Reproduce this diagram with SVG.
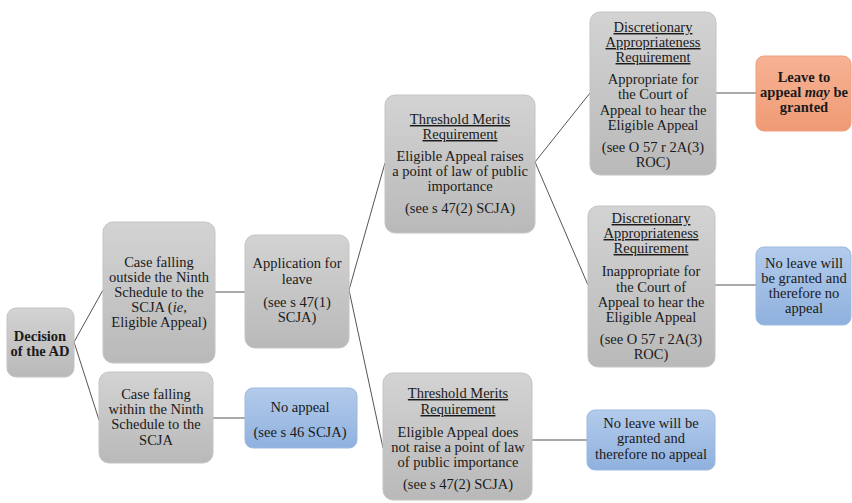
<svg xmlns="http://www.w3.org/2000/svg" width="852" height="503" viewBox="0 0 852 503">
<defs>
<linearGradient id="gGray" x1="0" y1="0" x2="0" y2="1">
<stop offset="0" stop-color="#d3d3d3"/><stop offset="1" stop-color="#b9b9b9"/>
</linearGradient>
<linearGradient id="gBlue" x1="0" y1="0" x2="0" y2="1">
<stop offset="0" stop-color="#b3cbeb"/><stop offset="1" stop-color="#8fb1de"/>
</linearGradient>
<linearGradient id="gOrange" x1="0" y1="0" x2="0" y2="1">
<stop offset="0" stop-color="#f7b394"/><stop offset="1" stop-color="#ef9a74"/>
</linearGradient>
<style>
.gray{fill:url(#gGray);stroke:#c4c4c4;stroke-width:1}
.blue{fill:url(#gBlue);stroke:#9db9df;stroke-width:1}
.orange{fill:url(#gOrange);stroke:#eea080;stroke-width:1}
text{font-family:'Liberation Serif','Times New Roman','DejaVu Serif',serif;font-size:14.5px;fill:#1a1a1a;text-anchor:middle}
.b{font-weight:bold}
.u{text-decoration:underline}
.conn line,.conn polyline{stroke:#555;stroke-width:1;fill:none}
</style>
</defs>
<rect width="852" height="503" fill="#fff"/>
<g class="conn" id="connectors">
<polyline points="103,290 74,342 99,420"/>
<line x1="215" y1="292" x2="245" y2="292"/>
<line x1="213" y1="418" x2="245" y2="418"/>
<polyline points="385,163 349,290 383,448"/>
<polyline points="590,93 535,162 588,285"/>
<line x1="716" y1="93" x2="756" y2="93"/>
<line x1="715" y1="285" x2="756" y2="285"/>
<line x1="532" y1="440" x2="587" y2="440"/>
</g>
<g font-family="'Liberation Serif', 'Times New Roman', serif">
<g id="decision">
<rect class="gray" x="7" y="308" width="67" height="69" rx="9"/>
<text class="b" x="40" y="341">Decision</text>
<text class="b" x="40" y="356">of the AD</text>
</g>
<g id="outside">
<rect class="gray" x="103" y="222" width="112" height="141" rx="10"/>
<text x="159" y="267">Case falling</text>
<text x="159" y="282">outside the Ninth</text>
<text x="159" y="297">Schedule to the</text>
<text x="159" y="312">SCJA (<tspan font-style="italic">ie,</tspan></text>
<text x="159" y="327">Eligible  Appeal)</text>
</g>
<g id="within">
<rect class="gray" x="99" y="372" width="114" height="91" rx="10"/>
<text x="156" y="399">Case falling</text>
<text x="156" y="414">within the Ninth</text>
<text x="156" y="429">Schedule to the</text>
<text x="156" y="445">SCJA</text>
</g>
<g id="application">
<rect class="gray" x="245" y="235" width="104" height="113" rx="10"/>
<text x="297" y="268">Application for</text>
<text x="297" y="284">leave</text>
<text x="297" y="307">(see s 47(1)</text>
<text x="297" y="322">SCJA)</text>
</g>
<g id="noappeal">
<rect class="blue" x="245" y="388" width="112" height="60" rx="8"/>
<text x="300" y="412">No appeal</text>
<text x="300" y="437">(see s 46 SCJA)</text>
</g>
<g id="threshold-yes">
<rect class="gray" x="385" y="95" width="150" height="138" rx="10"/>
<text class="u" x="460" y="124">Threshold Merits</text>
<text class="u" x="460" y="139">Requirement</text>
<text x="460" y="161">Eligible  Appeal raises</text>
<text x="460" y="176">a point of law of public</text>
<text x="460" y="191">importance</text>
<text x="460" y="213">(see s 47(2)  SCJA)</text>
</g>
<g id="threshold-no">
<rect class="gray" x="383" y="373" width="149" height="127" rx="10"/>
<text class="u" x="458" y="398">Threshold Merits</text>
<text class="u" x="458" y="414">Requirement</text>
<text x="458" y="437">Eligible  Appeal does</text>
<text x="458" y="452">not raise a point of law</text>
<text x="458" y="467">of public importance</text>
<text x="458" y="489">(see s 47(2)  SCJA)</text>
</g>
<g id="disc-yes">
<rect class="gray" x="590" y="12" width="126" height="163" rx="10"/>
<text class="u" x="653" y="32">Discretionary</text>
<text class="u" x="653" y="47">Appropriateness</text>
<text class="u" x="653" y="62">Requirement</text>
<text x="653" y="84">Appropriate for</text>
<text x="653" y="99">the Court of</text>
<text x="653" y="115">Appeal to hear the</text>
<text x="653" y="130">Eligible  Appeal</text>
<text x="653" y="152">(see O 57 r 2A(3)</text>
<text x="653" y="167">ROC)</text>
</g>
<g id="leave-granted">
<rect class="orange" x="756" y="56" width="95" height="75" rx="8"/>
<text class="b" x="804" y="82">Leave to</text>
<text class="b" x="804" y="97">appeal <tspan font-style="italic">may</tspan> be</text>
<text class="b" x="804" y="112">granted</text>
</g>
<g id="disc-no">
<rect class="gray" x="588" y="206" width="127" height="161" rx="10"/>
<text class="u" x="651" y="223">Discretionary</text>
<text class="u" x="651" y="238">Appropriateness</text>
<text class="u" x="651" y="253">Requirement</text>
<text x="651" y="276">Inappropriate for</text>
<text x="651" y="292">the Court of</text>
<text x="651" y="307">Appeal to hear the</text>
<text x="651" y="322">Eligible  Appeal</text>
<text x="651" y="344">(see O 57 r 2A(3)</text>
<text x="651" y="359">ROC)</text>
</g>
<g id="noleave-right">
<rect class="blue" x="756" y="247" width="95" height="78" rx="8"/>
<text x="804" y="268">No leave will</text>
<text x="804" y="283">be granted and</text>
<text x="804" y="298">therefore no</text>
<text x="804" y="313">appeal</text>
</g>
<g id="noleave-bottom">
<rect class="blue" x="587" y="410" width="128" height="60" rx="8"/>
<text x="651" y="428">No leave will  be</text>
<text x="651" y="443">granted and</text>
<text x="651" y="459">therefore no appeal</text>
</g>
</g>
</svg>
